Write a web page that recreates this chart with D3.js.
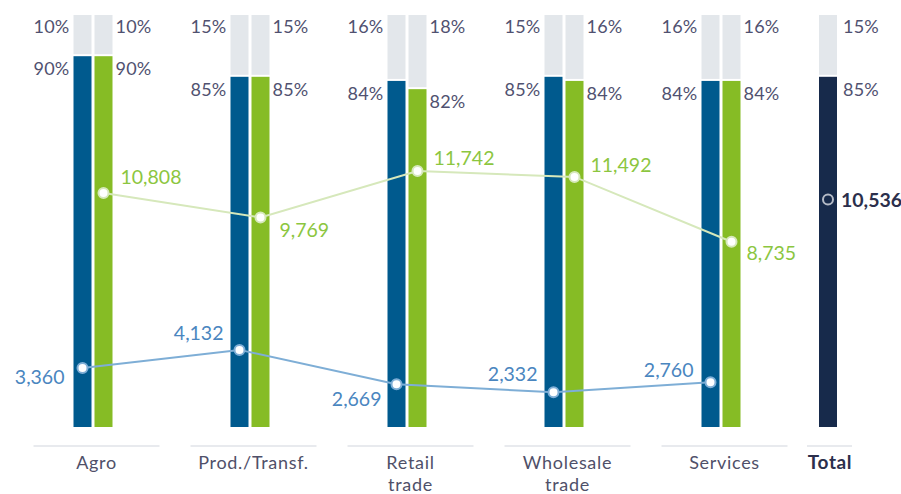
<!DOCTYPE html>
<html>
<head>
<meta charset="utf-8">
<script src="https://cdn.jsdelivr.net/npm/d3@7"></script>
<style>
  html, body { margin: 0; padding: 0; background: #ffffff; }
  svg { display: block; font-family: Lato, "Noto Sans", sans-serif; }
</style>
</head>
<body>
<svg id="chart" width="901" height="494"></svg>
<script>
// Sector breakdown: share of two groups (blue / green) with the remainder in grey,
// plus average amounts per sector drawn as two lines.
const categories = ["Agro", "Prod./Transf.", "Retail trade", "Wholesale trade", "Services"];
const categoryLines = [["Agro"], ["Prod./Transf."], ["Retail", "trade"], ["Wholesale", "trade"], ["Services"]];
const bluePct = [90, 85, 84, 85, 84];
const greenPct = [90, 85, 82, 84, 84];
const blueAmount = [3360, 4132, 2669, 2332, 2760];
const greenAmount = [10808, 9769, 11742, 11492, 8735];
const totalLabel = "Total";
const totalPct = 85;
const totalAmount = 10536;

const colors = {
  blue: "#005a8e",
  green: "#86bc25",
  grey: "#e3e7eb",
  total: "#172a4b",
  blueLine: "#7eaed6",
  greenLine: "#d6e8bb",
  blueText: "#4a86bf",
  greenText: "#8cc63f",
  pctText: "#505170",
  axis: "#e1e3e8",
  catText: "#4f5069",
  totalText: "#2b2f4c"
};

const svg = d3.select("#chart");
const fmt = d3.format(",");

// Scales
const x = d3.scalePoint().domain(categories).range([93, 721]);
const xTotal = 828;
const yPct = d3.scaleLinear().domain([0, 100]).range([427, 15]);
const yAmt = d3.scaleLinear().domain([0, 18000]).range([447, 24]);

const barW = 18, half = 1.5;
const blueX = c => x(c) - half - barW;
const greenX = c => x(c) + half;
const blueC = c => blueX(c) + barW / 2;
const greenC = c => greenX(c) + barW / 2;

const rows = categories.map((c, i) => ({
  c, lines: categoryLines[i],
  bp: bluePct[i], gp: greenPct[i],
  ba: blueAmount[i], ga: greenAmount[i]
}));

// Grey remainder on top, coloured share below
function stacked(g, xPos, pct, fill) {
  g.append("rect")
    .attr("x", xPos).attr("width", barW)
    .attr("y", yPct(100)).attr("height", yPct(pct) - 2 - yPct(100))
    .attr("fill", colors.grey);
  g.append("rect")
    .attr("x", xPos).attr("width", barW)
    .attr("y", yPct(pct)).attr("height", yPct(0) - yPct(pct))
    .attr("fill", fill);
}

const bars = svg.append("g");
rows.forEach(d => {
  stacked(bars, blueX(d.c), d.bp, colors.blue);
  stacked(bars, greenX(d.c), d.gp, colors.green);
});
stacked(bars, xTotal - barW / 2, totalPct, colors.total);

// Percentage labels
const pctG = svg.append("g")
  .attr("font-size", 18).attr("letter-spacing", 0.2)
  .attr("fill", colors.pctText).attr("dominant-baseline", "central");
rows.forEach(d => {
  pctG.append("text").attr("x", blueX(d.c) - 4).attr("y", 26)
    .attr("text-anchor", "end").text((100 - d.bp) + "%");
  pctG.append("text").attr("x", blueX(d.c) - 4).attr("y", yPct(d.bp) + 12)
    .attr("text-anchor", "end").text(d.bp + "%");
  pctG.append("text").attr("x", greenX(d.c) + barW + 3).attr("y", 26)
    .text((100 - d.gp) + "%");
  pctG.append("text").attr("x", greenX(d.c) + barW + 3).attr("y", yPct(d.gp) + 12)
    .text(d.gp + "%");
});
pctG.append("text").attr("x", xTotal + barW / 2 + 6).attr("y", 26).text((100 - totalPct) + "%");
pctG.append("text").attr("x", xTotal + barW / 2 + 6).attr("y", yPct(totalPct) + 12).text(totalPct + "%");

// Amount lines
const greenLine = d3.line().x(d => greenC(d.c)).y(d => yAmt(d.ga));
const blueLine = d3.line().x(d => blueC(d.c)).y(d => yAmt(d.ba));
svg.append("path").attr("d", greenLine(rows))
  .attr("fill", "none").attr("stroke", colors.greenLine).attr("stroke-width", 2);
svg.append("path").attr("d", blueLine(rows))
  .attr("fill", "none").attr("stroke", colors.blueLine).attr("stroke-width", 2);

svg.append("g").selectAll("circle").data(rows).join("circle")
  .attr("cx", d => greenC(d.c)).attr("cy", d => yAmt(d.ga)).attr("r", 5)
  .attr("fill", "#ffffff").attr("stroke", colors.greenLine).attr("stroke-width", 2);
svg.append("g").selectAll("circle").data(rows).join("circle")
  .attr("cx", d => blueC(d.c)).attr("cy", d => yAmt(d.ba)).attr("r", 5)
  .attr("fill", "#ffffff").attr("stroke", colors.blueLine).attr("stroke-width", 2);
svg.append("circle").attr("cx", xTotal).attr("cy", yAmt(totalAmount)).attr("r", 5)
  .attr("fill", colors.total).attr("stroke", "#b4bac6").attr("stroke-width", 2);

// Amount labels: offsets per point so they sit clear of the lines
const greenOff = [[17, -17], [19, 12], [16, -14], [16, -12], [15, 11]];
const blueOff = [[-18, 8], [-16, -17], [-15, 14], [-16, -19], [-17, -13]];
const amtG = svg.append("g").attr("font-size", 19.5).attr("dominant-baseline", "central");
rows.forEach((d, i) => {
  amtG.append("text")
    .attr("x", greenC(d.c) + greenOff[i][0]).attr("y", yAmt(d.ga) + greenOff[i][1])
    .attr("fill", colors.greenText).text(fmt(d.ga));
  amtG.append("text")
    .attr("x", blueC(d.c) + blueOff[i][0]).attr("y", yAmt(d.ba) + blueOff[i][1])
    .attr("text-anchor", "end").attr("fill", colors.blueText).text(fmt(d.ba));
});
amtG.append("text").attr("x", xTotal + 13).attr("y", yAmt(totalAmount))
  .attr("fill", colors.totalText).attr("font-weight", 700).text(fmt(totalAmount));

// Category axis: one short rule per group, label underneath
const axisG = svg.append("g");
rows.forEach(d => {
  const cx = x(d.c) + 3.5;
  axisG.append("line").attr("x1", cx - 63).attr("x2", cx + 63)
    .attr("y1", 446).attr("y2", 446).attr("stroke", colors.axis).attr("stroke-width", 1.5);
  const t = axisG.append("text").attr("x", cx).attr("y", 469)
    .attr("text-anchor", "middle").attr("font-size", 18).attr("letter-spacing", 0.7)
    .attr("fill", colors.catText);
  d.lines.forEach((ln, k) => t.append("tspan").attr("x", cx).attr("dy", k === 0 ? 0 : 22).text(ln));
});
axisG.append("line").attr("x1", xTotal - 21).attr("x2", xTotal + 24)
  .attr("y1", 446).attr("y2", 446).attr("stroke", colors.axis).attr("stroke-width", 1.5);
axisG.append("text").attr("x", xTotal + 2).attr("y", 469).attr("text-anchor", "middle")
  .attr("font-size", 19).attr("letter-spacing", 0.6).attr("font-weight", 700)
  .attr("fill", colors.totalText).text(totalLabel);
</script>
</body>
</html>
